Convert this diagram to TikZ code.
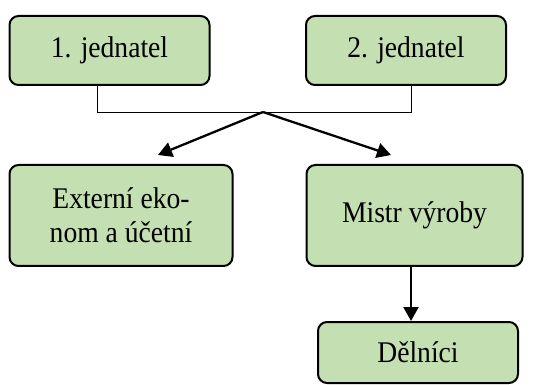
\documentclass[tikz,border=0pt]{standalone}
\usepackage{fontspec}
\setmainfont{Liberation Serif}[FakeStretch=0.92]
\usetikzlibrary{arrows.meta}
\definecolor{boxgreen}{HTML}{C4DFB2}
\begin{document}
\begin{tikzpicture}[x=1pt,y=-1pt,
  box/.style={draw=black, line width=2pt, fill=boxgreen, rounded corners=9pt, inner sep=0pt, align=center, font=\fontsize{30}{34}\selectfont},
  thin/.style={draw=black, line width=0.9pt},
  arr/.style={draw=black, line width=2.3pt, -{Triangle[length=14pt,width=15pt]}}]
\useasboundingbox (0,0) rectangle (555,385);
\node[box, minimum width=200pt, minimum height=69pt] (j1) at (109.5,50.5) {1. jednatel};
\node[box, minimum width=200pt, minimum height=69pt] (j2) at (406,50.5) {2. jednatel};
\node[box, minimum width=223pt, minimum height=101pt] (ext) at (121,215.5) {Externí eko-\\nom a účetní};
\node[box, minimum width=216pt, minimum height=101pt] (mis) at (414.5,215.5) {Mistr výroby};
\node[box, minimum width=200pt, minimum height=61pt] (del) at (418,352.5) {Dělníci};
\coordinate (apex) at (263,112);
\coordinate (e1) at (158,155);
\coordinate (e2) at (391,155);
\draw[thin] (j1.south -| 97,0) -- (97,112) -- (411,112) -- (j2.south -| 411,0);
\draw[arr] (apex) -- (e1);
\draw[arr] (apex) -- (e2);
\draw[arr] (mis.south -| 411,0) -- (del.north -| 411,0);
\end{tikzpicture}
\end{document}
